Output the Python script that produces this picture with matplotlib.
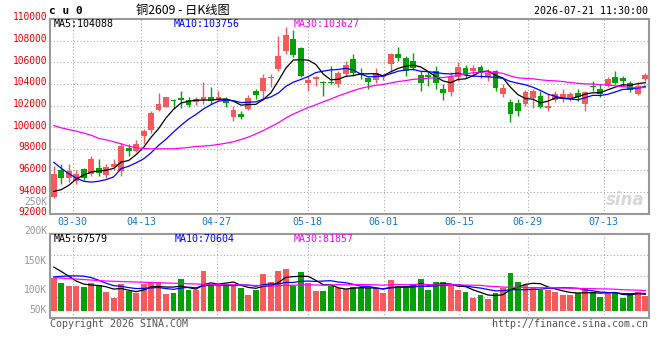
import numpy as np
import pandas as pd
import matplotlib
matplotlib.use('Agg')
import matplotlib.pyplot as plt
from matplotlib import transforms

# trading days shown (Chinese holidays removed)
holidays = ['2026-04-06', '2026-05-01', '2026-05-04', '2026-05-05', '2026-06-19']
dates = pd.bdate_range('2026-03-25', '2026-07-21')
dates = dates[~dates.isin(pd.to_datetime(holidays))]
tick_labels = ['03-30', '04-13', '04-27', '05-18', '06-01', '06-15', '06-29', '07-13']

opens = [93538, 96000, 95323, 95015, 96092, 95692, 96246, 95569, 96308, 95938,
         98092, 97785, 99200, 99754, 101600, 101908, 102462, 102708, 102523, 102338,
         102523, 102831, 102523, 102585, 100985, 101231, 101692, 103385, 103323, 104554,
         105385, 107015, 108154, 107323, 104062, 104492, 104185, 104123, 104000, 104923,
         106308, 104985, 104554, 104400, 104615, 105846, 106769, 106400, 106154, 104862,
         104862, 105231, 103538, 103231, 104615, 105477, 105169, 105600, 104615, 105231,
         103077, 102308, 102215, 102154, 102677, 102923, 101785, 102523, 102615, 102615,
         103138, 102154, 103785, 103538, 103846, 104677, 104554, 104092, 103077, 104492]
highs = [96369, 96554, 96554, 96000, 96246, 97292, 97015, 96615, 97015, 98523,
         98461, 98769, 99846, 101477, 103200, 102830, 102585, 103323, 102830, 102830,
         104215, 103692, 103385, 102769, 102000, 101538, 103015, 103508, 104923, 104923,
         108461, 109231, 108985, 107385, 104769, 104769, 104308, 105692, 105231, 106154,
         106769, 105477, 104677, 105477, 104923, 106831, 107446, 106615, 106831, 105231,
         105231, 105692, 104000, 105077, 106000, 105785, 105785, 105785, 105385, 105292,
         104000, 102615, 102615, 103446, 103538, 103385, 103077, 103323, 103538, 103231,
         103538, 103385, 104308, 104000, 104615, 105169, 104769, 104308, 104154, 104985]
lows = [93477, 94769, 94954, 94708, 95077, 95446, 95446, 95323, 96000, 95446,
        97323, 97692, 98461, 99446, 101539, 101846, 101662, 101785, 101908, 102030,
        102154, 102154, 102462, 101846, 100554, 100738, 101600, 102585, 102523, 103692,
        105231, 106769, 106523, 104677, 103323, 103846, 102923, 104000, 103754, 104615,
        104769, 104462, 103538, 104062, 104369, 105077, 106092, 104769, 105292, 103323,
        103846, 103538, 102554, 102923, 104246, 104554, 104769, 104554, 104246, 103323,
        102769, 100462, 101077, 102000, 101785, 101785, 101538, 102308, 102308, 102462,
        102462, 101538, 103385, 102769, 103692, 104000, 103846, 103231, 102985, 104246]
closes = [95631, 95323, 95908, 95692, 95323, 97015, 95754, 96308, 96554, 98215,
          97754, 98461, 99631, 101292, 102154, 102769, 102400, 102554, 102092, 102646,
          102831, 102462, 102831, 102277, 101631, 100985, 102708, 102954, 104554, 104677,
          106554, 108554, 106708, 104738, 104400, 104615, 104062, 104062, 104985, 105754,
          104985, 104800, 104154, 105015, 104831, 106769, 106400, 105169, 105477, 104062,
          104615, 104062, 103138, 104677, 105600, 104862, 105477, 104985, 105015, 103631,
          103600, 101231, 101538, 103231, 103323, 101908, 102000, 103077, 103077, 103077,
          102831, 103231, 103692, 103077, 104431, 104092, 104308, 103446, 103846, 104862]
# volume in K
volumes = [132, 113, 102, 99, 97, 113, 103, 76, 52, 109,
           79, 73, 109, 116, 117, 68, 72, 128, 86, 86,
           160, 107, 103, 107, 107, 94, 63, 86, 148, 117,
           160, 169, 101, 156, 114, 79, 80, 99, 94, 90,
           95, 92, 94, 92, 71, 124, 101, 99, 107, 128,
           83, 116, 116, 101, 83, 76, 50, 63, 48, 73,
           92, 152, 117, 103, 95, 84, 86, 76, 63, 63,
           73, 90, 78, 54, 73, 76, 50, 71, 78, 61]

# start of the average lines (history before the window)
ma5_head = [94060, 94220, 94620, 95200]
ma10_head = [96750, 96200, 95700, 95300, 95000, 94920, 95000, 95150, 95400]
ma30_head = [100150, 99940, 99780, 99630, 99450, 99260, 98960, 98830, 98650, 98460,
             98250, 98090, 98030, 98000, 98000, 98000, 98000, 98060, 98120, 98220,
             98250, 98310, 98400, 98520, 98650, 98860, 99080, 99380, 99690]
vma5_head = [178, 160, 141, 121]
vma10_head = [138, 140, 142, 142, 141, 135, 124, 112, 102]
vma30_head = [135, 133, 131, 129, 127, 125, 123, 121, 120, 119,
              118, 117, 116, 115, 114, 113, 112, 111, 110, 109,
              108, 107, 107, 106, 106, 105, 104, 103, 102]

price_ticks = list(range(92000, 110001, 2000))
vol_labels = ['250K', '200K', '150K', '100K', '50K']
vol_label_y = [202, 231, 261, 290, 310]   # pixel rows used by the site

header_price = ['MA5:104088', 'MA10:103756', 'MA30:103627']
header_vol = ['MA5:67579', 'MA10:70604', 'MA30:81857']


def moving_avg(vals, n, head):
    out = pd.Series(vals, dtype=float).rolling(n).mean().to_numpy()
    out[:n - 1] = head
    return out


o = np.array(opens); h = np.array(highs); l = np.array(lows); c = np.array(closes)
v = np.array(volumes, dtype=float)
n = len(c)
x = np.arange(n)
up = c >= o
RED = '#f75a5a'
GREEN = '#05a005'
col = np.where(up, RED, GREEN)

W, H = 660, 360
fig = plt.figure(figsize=(6.6, 3.6), dpi=100)


def box(left, top, right, bottom):
    return [left / W, 1 - bottom / H, (right - left) / W, (bottom - top) / H]


ax = fig.add_axes(box(50, 19, 649, 213.7))
axv = fig.add_axes(box(50, 234.3, 649, 317.7))

idx = [list(dates.strftime('%m-%d')).index(t) for t in tick_labels]
grid_x = [-0.5 + i * n / (n - 1) for i in idx]

mono = 'DejaVu Sans Mono'
dot = (0, (1, 2))

# candles
ax.vlines(x, l, h, colors=col, lw=1)
body = np.maximum(np.abs(c - o), 70)
ax.bar(x, body, bottom=np.minimum(o, c), width=0.78, color=col, lw=0)
ax.plot(x, moving_avg(c, 5, ma5_head), color='black', lw=0.9)
ax.plot(x, moving_avg(c, 10, ma10_head), color='#0000ff', lw=0.9)
ax.plot(x, moving_avg(c, 30, ma30_head), color='#ff00ff', lw=0.9)
ax.set_xlim(-0.5, n - 0.5)
ax.set_ylim(92000, 110000)
ax.set_yticks(price_ticks[1:-1])
ax.set_xticks(grid_x)
ax.grid(True, color='#aaaaaa', linestyle=dot, lw=0.8)
ax.set_axisbelow(True)

# volume
axv.bar(x, v, width=0.78, color=col, lw=0)
axv.plot(x, moving_avg(v, 5, vma5_head), color='black', lw=0.9)
axv.plot(x, moving_avg(v, 10, vma10_head), color='#0000ff', lw=0.9)
axv.plot(x, moving_avg(v, 30, vma30_head), color='#ff00ff', lw=0.9)
axv.set_xlim(-0.5, n - 0.5)
vlo, vhi = -28.6, 311.7
axv.set_ylim(vlo, vhi)
axv.set_yticks(np.linspace(vlo, vhi, 5)[1:-1])
axv.set_xticks(grid_x)
axv.grid(True, color='#aaaaaa', linestyle=dot, lw=0.8)
axv.set_axisbelow(True)

for a in (ax, axv):
    a.tick_params(length=0, labelleft=False, labelbottom=False)
    for s in a.spines.values():
        s.set_color('#999999')
        s.set_linewidth(1.5)

# price labels
lab_tr = transforms.offset_copy(transforms.blended_transform_factory(ax.transAxes, ax.transData),
                                fig=fig, x=-3, y=1.5, units='dots')
for p in price_ticks:
    ax.text(0, p, str(p), transform=lab_tr, ha='right', va='center',
            color='#ee0000', fontsize=6.9, family=mono, clip_on=False)

# date labels
date_tr = transforms.blended_transform_factory(ax.transData, ax.transAxes)
for gx, t in zip(grid_x, tick_labels):
    ax.text(gx, -8 / 194.7, t, transform=date_tr, ha='center', va='center',
            color='#1577c8', fontsize=7.2, family=mono)

for t, yy in zip(vol_labels, vol_label_y):
    fig.text(47 / W, 1 - yy / H, t, ha='right', va='center', color='#999999',
             fontsize=6.9, family=mono)

# headers
fig.text(49 / W, 1 - 11.5 / H, 'c u 0', fontsize=8, family=mono, weight='bold',
         va='center', ha='left')
fig.text(136 / W, 1 - 10.5 / H, '铜2609 - 日K线图', fontsize=8.8, va='center', ha='left',
         family=['Noto Sans CJK SC', 'DejaVu Sans'])
fig.text(648 / W, 1 - 11.5 / H, '2026-07-21 11:30:00', fontsize=7.2, family=mono,
         va='center', ha='right')
ma_cols = ['black', '#0000ff', '#ff00ff']
for t, cc, xx in zip(header_price, ma_cols, [54, 174, 294]):
    fig.text(xx / W, 1 - 24 / H, t, color=cc, fontsize=7.2, family=mono, va='center')
for t, cc, xx in zip(header_vol, ma_cols, [54, 175, 294]):
    fig.text(xx / W, 1 - 239 / H, t, color=cc, fontsize=7.2, family=mono, va='center')

fig.text(625 / W, 1 - 200 / H, 'sina', color='#d8d8d8', fontsize=12, style='italic',
         weight='bold', ha='center', va='center')
fig.text(50 / W, 1 - 324 / H, 'Copyright 2026 SINA.COM', color='#555555', fontsize=7.2,
         family=mono, va='center')
fig.text(648 / W, 1 - 324 / H, 'http://finance.sina.com.cn', color='#555555', fontsize=7.2,
         family=mono, va='center', ha='right')

fig.savefig('out.png', dpi=100)
